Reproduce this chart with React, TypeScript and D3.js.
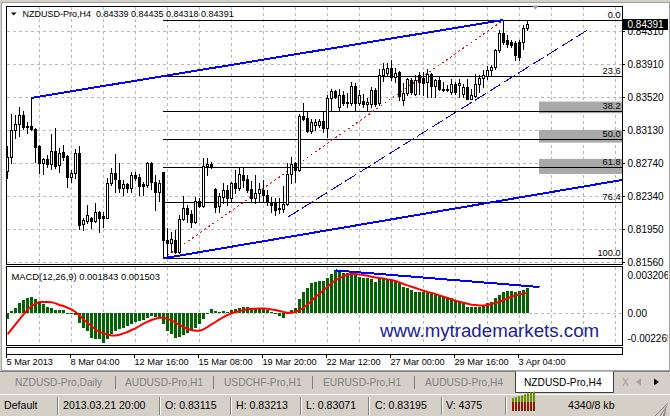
import React from "react";
import * as d3 from "d3";

// NZDUSD-Pro H4 candles, 5 Mar – 3 Apr 2013
const openPrices = [
  0.82642, 0.82812, 0.83129, 0.83197, 0.83308, 0.83173, 0.83177, 0.83141, 0.82939, 0.8274,
  0.82785, 0.82729, 0.8288, 0.8271, 0.82871, 0.8282, 0.82567, 0.82614, 0.82852, 0.82008,
  0.82051, 0.82083, 0.82047, 0.82154, 0.82107, 0.82087, 0.82499, 0.82614, 0.82535, 0.82436,
  0.82484, 0.82443, 0.82594, 0.82574, 0.82484, 0.82475, 0.82733, 0.82515, 0.82396, 0.82626,
  0.81821, 0.81782, 0.81821, 0.81682, 0.82068, 0.82198, 0.82127, 0.82039, 0.82289, 0.82229,
  0.82701, 0.82729, 0.82428, 0.82229, 0.82336, 0.82416, 0.82324, 0.82496, 0.82443, 0.82594,
  0.82547, 0.82424, 0.82317, 0.82377, 0.82416, 0.82356, 0.82277, 0.82258, 0.8219, 0.8219,
  0.82249, 0.82603, 0.82733, 0.82654, 0.83299, 0.83268, 0.83117, 0.83189, 0.83189, 0.83236,
  0.83149, 0.83506, 0.83593, 0.83399, 0.83545, 0.83454, 0.83454, 0.83652, 0.83447, 0.83474,
  0.83435, 0.83435, 0.83605, 0.8345, 0.83783, 0.83803, 0.83863, 0.83756, 0.83822, 0.83486,
  0.83566, 0.83724, 0.83561, 0.8378, 0.83748, 0.837, 0.83799, 0.83652, 0.8372, 0.8362,
  0.83613, 0.83581, 0.8368, 0.83668, 0.83561, 0.83641, 0.83501, 0.83534, 0.8368, 0.83748,
  0.83771, 0.83839, 0.83878, 0.84077, 0.84286, 0.84196, 0.84176, 0.84164, 0.84176, 0.84176,
  0.84339,
];
const highPrices = [
  0.82939, 0.83319, 0.83308, 0.83403, 0.83355, 0.83228, 0.8351, 0.83153, 0.82951, 0.82796,
  0.82832, 0.83082, 0.83153, 0.82915, 0.82951, 0.82832, 0.82654, 0.829, 0.82939, 0.82079,
  0.82238, 0.82098, 0.82258, 0.82166, 0.82158, 0.82559, 0.82681, 0.8284, 0.82737, 0.82535,
  0.82496, 0.82633, 0.82633, 0.82603, 0.82515, 0.82745, 0.82752, 0.82594, 0.82535, 0.82633,
  0.81964, 0.8192, 0.8194, 0.82119, 0.82345, 0.82238, 0.82178, 0.82336, 0.82317, 0.82793,
  0.82793, 0.82752, 0.8244, 0.82377, 0.82496, 0.82475, 0.82515, 0.82654, 0.82674, 0.82693,
  0.82594, 0.82523, 0.82594, 0.82496, 0.82535, 0.82416, 0.82336, 0.82317, 0.82324, 0.82463,
  0.82733, 0.82812, 0.82752, 0.83316, 0.83447, 0.83347, 0.83256, 0.8326, 0.8326, 0.83347,
  0.83545, 0.83613, 0.83605, 0.83613, 0.83597, 0.83566, 0.83704, 0.83692, 0.83605, 0.83557,
  0.83506, 0.83644, 0.83625, 0.83851, 0.83922, 0.83922, 0.83962, 0.83863, 0.83831, 0.83685,
  0.83744, 0.83748, 0.8378, 0.83819, 0.83819, 0.83858, 0.83811, 0.83739, 0.83759, 0.837,
  0.83664, 0.83739, 0.837, 0.83739, 0.8368, 0.83739, 0.8362, 0.83799, 0.8378, 0.83839,
  0.8389, 0.83899, 0.84096, 0.84315, 0.84435, 0.84255, 0.84199, 0.84184, 0.84196, 0.84378,
  0.84435,
];
const lowPrices = [
  0.82562, 0.82737, 0.83034, 0.83062, 0.83141, 0.8309, 0.83133, 0.82752, 0.82622, 0.82606,
  0.82693, 0.82666, 0.82681, 0.82633, 0.82773, 0.82455, 0.82515, 0.82555, 0.81949, 0.8194,
  0.8202, 0.81968, 0.82039, 0.8192, 0.8198, 0.82079, 0.82475, 0.82396, 0.82396, 0.82356,
  0.82396, 0.82396, 0.82535, 0.82356, 0.82356, 0.82455, 0.82428, 0.82178, 0.82285, 0.81604,
  0.81623, 0.81682, 0.81663, 0.81663, 0.82059, 0.82039, 0.8198, 0.8202, 0.82217, 0.82217,
  0.82594, 0.82674, 0.82158, 0.82158, 0.82258, 0.82238, 0.82277, 0.82377, 0.82416, 0.82455,
  0.82396, 0.82277, 0.82258, 0.82277, 0.82277, 0.82238, 0.82158, 0.82119, 0.82139, 0.82158,
  0.82238, 0.82496, 0.82515, 0.82642, 0.83248, 0.83109, 0.8309, 0.83129, 0.83165, 0.83109,
  0.8305, 0.83367, 0.8351, 0.83367, 0.83427, 0.83406, 0.83427, 0.83367, 0.83427, 0.83406,
  0.83367, 0.83406, 0.83418, 0.83427, 0.83715, 0.83783, 0.83724, 0.83704, 0.83486, 0.83427,
  0.83545, 0.83557, 0.83542, 0.83561, 0.83542, 0.83522, 0.83522, 0.83522, 0.83601, 0.83593,
  0.83593, 0.83561, 0.83561, 0.83522, 0.83522, 0.83492, 0.83492, 0.83522, 0.83581, 0.83641,
  0.83739, 0.8378, 0.83858, 0.84057, 0.84155, 0.84116, 0.84116, 0.83958, 0.83958, 0.84096,
  0.84318,
];
const closePrices = [
  0.82812, 0.83129, 0.83197, 0.83308, 0.83169, 0.83161, 0.83138, 0.82931, 0.8274, 0.82781,
  0.82729, 0.8288, 0.82701, 0.82859, 0.82812, 0.82567, 0.82618, 0.82852, 0.82, 0.82059,
  0.82119, 0.82051, 0.82154, 0.82087, 0.82087, 0.82496, 0.82618, 0.82543, 0.82436, 0.82484,
  0.82443, 0.82594, 0.82555, 0.82467, 0.82467, 0.82733, 0.82515, 0.82396, 0.82496, 0.81821,
  0.81782, 0.81833, 0.81682, 0.82068, 0.82198, 0.82127, 0.82039, 0.82289, 0.82229, 0.82705,
  0.82729, 0.82701, 0.82217, 0.82341, 0.82416, 0.82324, 0.82496, 0.82443, 0.82603, 0.82535,
  0.82416, 0.82324, 0.82377, 0.82424, 0.82356, 0.82277, 0.82238, 0.82178, 0.82205, 0.82249,
  0.82603, 0.82721, 0.82654, 0.83299, 0.8326, 0.83117, 0.83228, 0.83228, 0.83236, 0.83149,
  0.83506, 0.83597, 0.83522, 0.83545, 0.83454, 0.83466, 0.83652, 0.83454, 0.83545, 0.83435,
  0.83466, 0.83605, 0.83435, 0.83783, 0.83851, 0.83863, 0.83756, 0.83803, 0.83534, 0.83566,
  0.83732, 0.83581, 0.8372, 0.837, 0.83692, 0.83799, 0.83652, 0.8372, 0.83613, 0.83601,
  0.83601, 0.8368, 0.83581, 0.83688, 0.83641, 0.83501, 0.83549, 0.8368, 0.83748, 0.8378,
  0.83839, 0.83878, 0.84077, 0.84286, 0.84176, 0.84155, 0.84136, 0.84017, 0.83997, 0.84339,
  0.84391,
];

// MACD(12,26,9): main histogram and signal line
const macdMain = [
  -0.000455, 0.000129, 0.000379, 0.000758, 0.000963, 0.001137, 0.001213, 0.001061, 0.000758, 0.000629,
  0.000432, 0.000379, 0.000205, 0.000205, 0.000174, -0.00001, -0.000129, -0.000205, -0.000758, -0.001137,
  -0.001387, -0.001895, -0.001971, -0.002024, -0.002265, -0.001971, -0.001645, -0.001387, -0.001266, -0.001137,
  -0.001008, -0.000834, -0.000705, -0.000629, -0.000584, -0.000379, -0.00025, -0.000303, -0.000303, -0.000887,
  -0.001387, -0.001645, -0.001895, -0.001842, -0.001721, -0.001516, -0.001387, -0.001137, -0.000887, -0.000508,
  -0.000076, 0.00025, 0.000129, 0.000053, 0.000099, 0.000076, 0.000205, 0.00025, 0.000379, 0.000455,
  0.000432, 0.000303, 0.000303, 0.000303, 0.000303, 0.000205, 0.000053, -0.000076, -0.00025, -0.000379,
  -0.00004, 0.000205, 0.000379, 0.001008, 0.001569, 0.001895, 0.002221, 0.002327, 0.002403, 0.002403,
  0.002653, 0.002903, 0.003206, 0.003108, 0.003032, 0.002979, 0.002858, 0.002858, 0.002729, 0.0026,
  0.0026, 0.002524, 0.00235, 0.0026, 0.0026, 0.002524, 0.002479, 0.002426, 0.002221, 0.001971,
  0.001842, 0.001721, 0.001592, 0.001539, 0.001539, 0.001463, 0.001387, 0.001342, 0.001266, 0.00116,
  0.00116, 0.001084, 0.000963, 0.000834, 0.000705, 0.000455, 0.000402, 0.000455, 0.000455, 0.000584,
  0.000705, 0.000834, 0.001084, 0.001342, 0.001592, 0.001645, 0.001645, 0.001592, 0.001668, 0.001721,
  0.001843,
];
const macdSignal = [
  -0.001645, -0.001266, -0.000887, -0.000508, -0.000129, 0.00025, 0.000508, 0.000682, 0.000811, 0.000811,
  0.000811, 0.0008, 0.000705, 0.000584, 0.000508, 0.000379, 0.00025, 0.000053, -0.000205, -0.000508,
  -0.000758, -0.001008, -0.001266, -0.001463, -0.001569, -0.001645, -0.001721, -0.001721, -0.001668, -0.001569,
  -0.001463, -0.001311, -0.00119, -0.001008, -0.000834, -0.000682, -0.000553, -0.000455, -0.000379, -0.000379,
  -0.000455, -0.000584, -0.000758, -0.000932, -0.001084, -0.001213, -0.001311, -0.001364, -0.001364, -0.001266,
  -0.001084, -0.000887, -0.000705, -0.000508, -0.000326, -0.000174, -0.000053, 0.000053, 0.000129, 0.000205,
  0.00025, 0.000303, 0.000303, 0.000326, 0.000326, 0.000303, 0.00025, 0.000205, 0.000129, 0.000053,
  0.0, -0.00001, 0.000053, 0.000205, 0.000379, 0.000629, 0.000887, 0.001213, 0.00144, 0.001706,
  0.001971, 0.002236, 0.002448, 0.002615, 0.002767, 0.00288, 0.002933, 0.002933, 0.002903, 0.002858,
  0.002805, 0.002729, 0.002676, 0.00263, 0.0026, 0.002524, 0.002479, 0.002403, 0.002297, 0.002175,
  0.002069, 0.001971, 0.001872, 0.001766, 0.001668, 0.001569, 0.001493, 0.001417, 0.001311, 0.001213,
  0.001114, 0.001008, 0.00091, 0.000834, 0.000758, 0.000682, 0.000606, 0.000584, 0.000553, 0.000553,
  0.000584, 0.000659, 0.000735, 0.000834, 0.000963, 0.001084, 0.00123, 0.00131, 0.00138, 0.001445,
  0.001503,
];

const priceTicks = [0.8431, 0.8391, 0.8352, 0.8313, 0.8274, 0.8234, 0.8195, 0.8156];
const priceTickLabels = ["0.84310", "0.83910", "0.83520", "0.83130", "0.82740", "0.82340", "0.81950", "0.81560"];
const macdTicks = [0.003206, 0, -0.002265];
const macdTickLabels = ["0.003206", "0.00", "-0.002265"];
const dateBars = [0, 16, 32, 48, 64, 80, 96, 112, 128];
const dateLabels = [
  "5 Mar 2013", "8 Mar 04:00", "12 Mar 16:00", "15 Mar 08:00", "19 Mar 20:00",
  "22 Mar 12:00", "27 Mar 00:00", "29 Mar 16:00", "3 Apr 04:00",
];

// Fibonacci retracement from the 12 Mar low to the 2 Apr high
const fibLevels = [0, 23.6, 38.2, 50, 61.8, 76.4, 100];
const fibLabels = ["0.0", "23.6", "38.2", "50.0", "61.8", "76.4", "100.0"];
const fibHigh = { bar: 124, price: 0.84435 };
const fibLow = { bar: 39, price: 0.81604 };

// shaded target zones near 38.2 / 50.0 / 61.8
const zoneStartBar = 133;
const zoneTops = [0.83466, 0.83129, 0.82785];
const zoneBottoms = [0.83328, 0.82978, 0.82606];

// trend lines (bar index, price)
const upperChannel = [{ bar: 6, price: 0.8351 }, { bar: 124, price: 0.84435 }];
const lowerChannel = [{ bar: 39, price: 0.81604 }, { bar: 150, price: 0.82505 }];
const supportLine = [{ bar: 70, price: 0.82091 }, { bar: 144.8, price: 0.8431 }];
const macdTrend = [{ bar: 82, value: 0.003206 }, { bar: 133, value: 0.001948 }];

const lastPrice = 0.84391;
const titleText = "NZDUSD-Pro,H4  0.84339 0.84435 0.84318 0.84391";
const macdTitle = "MACD(12,26,9) 0.001843 0.001503";
const tabNames = ["NZDUSD-Pro,Daily", "AUDUSD-Pro,H1", "USDCHF-Pro,H1", "EURUSD-Pro,H1", "AUDUSD-Pro,H4"];
const activeTab = "NZDUSD-Pro,H4";
const statusTexts = ["Default", "2013.03.21 20:00", "O: 0.83115", "H: 0.83213", "L: 0.83071", "C: 0.83195", "V: 4375", "4340/8 kb"];

const FONT = "'Liberation Sans', Arial, sans-serif";

// layout
const L = 6.5, R = 622.5;
const MAIN_T = 6.5, MAIN_B = 264.5;
const MACD_T = 266.5, MACD_B = 345.5;

export default function App() {
  const xB = d3.scaleLinear().domain([0, 1]).range([7.5, 11.5]);
  const yP = d3.scaleLinear().domain([fibLow.price, fibHigh.price]).range([258.3, 20]);
  const yM = d3.scaleLinear().domain([-0.002265, 0.003206]).range([342.6, 270.4]);

  const gridBars = d3.range(8, 154, 8);
  const signalPath = d3
    .line<number>()
    .x((_, i) => xB(i))
    .y((d) => yM(d))(macdSignal) as string;

  const seg = (pts: { bar: number; price: number }[]) => ({
    x1: xB(pts[0].bar), y1: yP(pts[0].price), x2: xB(pts[1].bar), y2: yP(pts[1].price),
  });
  const up = seg(upperChannel);
  const sup = seg(supportLine);
  const fibDiag = seg([fibLow, fibHigh]);
  // lower channel line runs as a ray to the right edge
  const lcSlope = (lowerChannel[1].price - lowerChannel[0].price) / (lowerChannel[1].bar - lowerChannel[0].bar);
  const lcEndBar = 160;
  const low = {
    x1: xB(lowerChannel[0].bar), y1: yP(lowerChannel[0].price),
    x2: xB(lcEndBar), y2: yP(lowerChannel[0].price + lcSlope * (lcEndBar - lowerChannel[0].bar)),
  };
  const mt = {
    x1: xB(macdTrend[0].bar), y1: yM(macdTrend[0].value),
    x2: xB(macdTrend[1].bar), y2: yM(macdTrend[1].value),
  };
  const fibPrice = (lv: number) => fibHigh.price - ((fibHigh.price - fibLow.price) * lv) / 100;
  const zero = Math.round(yM(0));

  const tabX = [15, 125, 224, 323, 425];
  const tabSep = [115.5, 213.5, 312.5, 414.5];
  const statusX = [4, 63, 165, 236, 306, 375, 446, 568];
  const statusSep = [57.5, 159.5, 230.5, 300.5, 368.5, 441.5, 505.5];

  return (
    <svg
      width={670}
      height={416}
      viewBox="0 0 670 416"
      style={{ position: "fixed", left: 0, top: 0, display: "block" }}
      fontFamily={FONT}
    >
      <defs>
        <clipPath id="mainClip">
          <rect x={7} y={7} width={615} height={257} />
        </clipPath>
        <clipPath id="macdClip">
          <rect x={7} y={267} width={615} height={78} />
        </clipPath>
        <clipPath id="winClip">
          <rect x={0} y={0} width={668} height={370} />
        </clipPath>
      </defs>

      {/* window background */}
      <rect x={0} y={0} width={670} height={416} fill="#d4d0c8" />
      <rect x={1.5} y={2.5} width={668} height={368} fill="#ffffff" stroke="#a0a0a0" />

      {/* grid */}
      {gridBars.map((b) => (
        <g key={"vg" + b} stroke="#b8b8b8" strokeDasharray="3,3">
          <line x1={xB(b)} x2={xB(b)} y1={7} y2={264} />
          <line x1={xB(b)} x2={xB(b)} y1={267} y2={345} />
        </g>
      ))}
      {priceTicks.map((p) => (
        <line key={"hg" + p} x1={7} x2={622} y1={Math.round(yP(p)) + 0.5} y2={Math.round(yP(p)) + 0.5}
          stroke="#b8b8b8" strokeDasharray="3,3" />
      ))}
      <line x1={7} x2={622} y1={zero + 0.5} y2={zero + 0.5} stroke="#b8b8b8" strokeDasharray="3,3" />

      {/* main chart objects */}
      <g clipPath="url(#mainClip)">
        {zoneTops.map((t, k) => (
          <rect key={"z" + k} x={xB(zoneStartBar) - 0.5} y={yP(t)} width={R - xB(zoneStartBar) + 0.5}
            height={yP(zoneBottoms[k]) - yP(t)} fill="#a9a9a9" />
        ))}
        {fibLevels.map((lv) => {
          const y = Math.round(yP(fibPrice(lv))) + 0.5;
          return <line key={"f" + lv} x1={xB(fibLow.bar) - 0.5} x2={R} y1={y} y2={y} stroke="#000" />;
        })}
        {fibLevels.map((lv, k) => {
          const y = Math.round(yP(fibPrice(lv)));
          return (
            <text key={"fl" + lv} x={620.5} y={y - 2} textAnchor="end" fontSize={9.2} fill="#000">
              {fibLabels[k]}
            </text>
          );
        })}
        <line {...fibDiag} stroke="#ff0000" strokeDasharray="2,3" shapeRendering="crispEdges" />
        <line {...sup} stroke="#0000ff" strokeDasharray="13,4" shapeRendering="crispEdges" />

        {/* candles */}
        {openPrices.map((o, i) => {
          const c = closePrices[i];
          const cx = xB(i);
          const yo = Math.round(yP(o));
          const yc = Math.round(yP(c));
          const yh = Math.round(yP(highPrices[i]));
          const yl = Math.round(yP(lowPrices[i]));
          const top = Math.min(yo, yc);
          const bot = Math.max(yo, yc);
          const bull = c >= o;
          return (
            <g key={"c" + i}>
              <line x1={cx} x2={cx} y1={yh} y2={yl + 1} stroke="#000" />
              {bull ? (
                <rect x={cx - 1} y={top + 0.5} width={2} height={Math.max(bot - top, 0)} fill="#fff" stroke="#000" />
              ) : (
                <rect x={cx - 1.5} y={top} width={3} height={Math.max(bot - top + 1, 1)} fill="#000" />
              )}
            </g>
          );
        })}

        <line {...up} stroke="#0000ff" strokeWidth={2} shapeRendering="crispEdges" />
        <line {...low} stroke="#0000ff" strokeWidth={2} shapeRendering="crispEdges" />
      </g>

      {/* MACD window */}
      <g clipPath="url(#macdClip)">
        {macdMain.map((v, i) => {
          const y = Math.round(yM(v));
          return (
            <rect key={"m" + i} x={xB(i) - 1.5} y={v >= 0 ? y : zero} width={3}
              height={Math.max(Math.abs(zero - y), 1)} fill="#006400" />
          );
        })}
        <path d={signalPath} fill="none" stroke="#ff0000" strokeWidth={2} />
        <line {...mt} stroke="#0000ff" strokeWidth={2} shapeRendering="crispEdges" />
        <text x={380} y={336.5} fontSize={18.7} fill="#20209a">www.mytrademarkets.com</text>
      </g>

      {/* panel frames */}
      <g fill="none" stroke="#000" shapeRendering="crispEdges">
        <rect x={L} y={MAIN_T} width={R - L} height={MAIN_B - MAIN_T} />
        <rect x={L} y={MACD_T} width={R - L} height={MACD_B - MACD_T} />
        <rect x={L} y={347.5} width={R - L} height={7} />
      </g>

      {/* titles */}
      <path d="M11,12.5 L16.5,12.5 L13.75,15.5 Z" fill="#000" />
      <text x={22.5} y={16.5} fontSize={9} fill="#000" style={{ whiteSpace: "pre" }}>{titleText}</text>
      <text x={11.5} y={279.5} fontSize={9.4} fill="#000">{macdTitle}</text>
      <path d="M532,5.5 L539,5.5 L535.5,9.5 Z" fill="#a0a0a0" />

      {/* price scale */}
      <g clipPath="url(#winClip)">
        {priceTicks.map((p, k) => {
          const y = Math.round(yP(p));
          return (
            <g key={"pt" + p}>
              <line x1={622} x2={625} y1={y + 0.5} y2={y + 0.5} stroke="#000" />
              <text x={627.5} y={y + 4} fontSize={10} fill="#000">{priceTickLabels[k]}</text>
            </g>
          );
        })}
        <rect x={623} y={Math.round(yP(lastPrice)) - 5} width={46} height={11} fill="#000" />
        <text x={627.5} y={Math.round(yP(lastPrice)) + 4} fontSize={10} fill="#fff">{lastPrice.toFixed(5)}</text>
        {macdTicks.map((v, k) => {
          const y = Math.min(Math.max(yM(v), 275), 338.3);
          return (
            <text key={"mt" + k} x={627.5} y={y + 3.8} fontSize={10} fill="#000">{macdTickLabels[k]}</text>
          );
        })}
      </g>

      {/* time scale */}
      {dateBars.map((b, k) => (
        <g key={"d" + b}>
          <line x1={xB(b) - 1} x2={xB(b) - 1} y1={355} y2={358} stroke="#000" />
          <text x={xB(b) - 1} y={365} fontSize={9.2} fill="#000">{dateLabels[k]}</text>
        </g>
      ))}

      {/* tab bar */}
      <line x1={0} x2={670} y1={371.5} y2={371.5} stroke="#808080" />
      {tabNames.map((t, k) => (
        <text key={"t" + k} x={tabX[k]} y={385.5} fontSize={10.2} fill="#808080">{t}</text>
      ))}
      {tabSep.map((x) => (
        <line key={"ts" + x} x1={x} x2={x} y1={376} y2={389} stroke="#808080" />
      ))}
      <path d="M515.5,371.5 L515.5,392.5 L613.5,392.5 L613.5,371.5" fill="#ffffff" stroke="#404040" />
      <text x={524} y={385.5} fontSize={10.2} fill="#000">{activeTab}</text>
      <text x={622} y={385.5} fontSize={10.2} fill="#a0a0a0">X</text>
      <path d="M636,382 L641,378.5 L641,385.5 Z" fill="#a0a0a0" />
      <path d="M659,382 L654,378.5 L654,385.5 Z" fill="#000" />

      {/* status bar */}
      <line x1={0} x2={670} y1={394.5} y2={394.5} stroke="#ffffff" />
      {statusSep.map((x) => (
        <g key={"ss" + x}>
          <line x1={x} x2={x} y1={397} y2={415} stroke="#808080" />
          <line x1={x + 1} x2={x + 1} y1={397} y2={415} stroke="#ffffff" />
        </g>
      ))}
      {statusTexts.map((t, k) => (
        <text key={"st" + k} x={statusX[k]} y={409} fontSize={10.6} fill="#000">{t}</text>
      ))}
      {d3.range(8).map((k) => {
        const x = 512 + k * 3;
        const h = 6 + k * 0.9;
        return (
          <g key={"ic" + k}>
            <rect x={x} y={404 - h} width={2} height={h - 2} fill="#6b8e00" />
            <rect x={x} y={402} width={2} height={9} fill="#8b1a00" />
          </g>
        );
      })}
      {d3.range(4).map((k) => (
        <line key={"gr" + k} x1={668 - k * 4} y1={403 + k * 0} x2={655 + k * 0} y2={416} stroke="#808080"
          transform={`translate(${k * 3},${k * 3})`} />
      ))}
    </svg>
  );
}
